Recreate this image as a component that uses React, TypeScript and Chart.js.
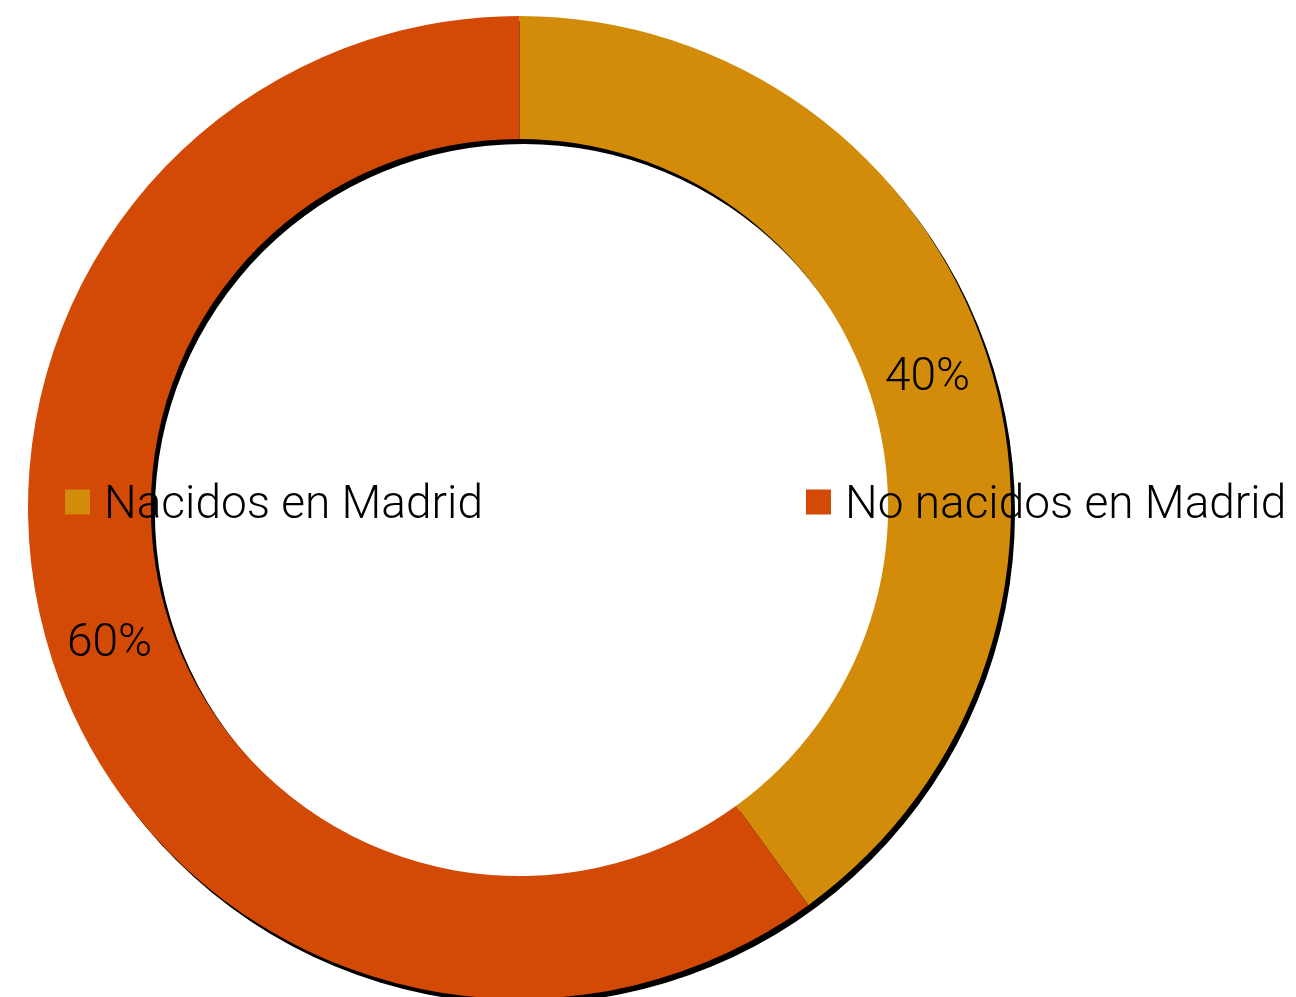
import React, { useEffect, useRef } from "react";
import { Chart, registerables } from "chart.js";

Chart.register(...registerables);

const categories: string[] = ["Nacidos en Madrid", "No nacidos en Madrid"];
const percentages: number[] = [40, 60];
const sliceColors: string[] = ["#D28C09", "#D34906"];

const FONT_FAMILY = "Roboto, 'Helvetica Neue', Arial, sans-serif";
const TEXT_SIZE = 46;

const shadowPlugin = {
  id: "ringShadow",
  beforeDatasetsDraw(chart: any) {
    const arc = chart.getDatasetMeta(0).data[0];
    if (!arc) return;
    const { x, y, innerRadius, outerRadius } = arc.getProps(
      ["x", "y", "innerRadius", "outerRadius"],
      true
    );
    const ctx = chart.ctx;
    ctx.save();
    ctx.fillStyle = "#000";
    ctx.beginPath();
    ctx.arc(x + 4, y + 5, outerRadius, 0, Math.PI * 2);
    ctx.arc(x + 4, y + 5, innerRadius, 0, Math.PI * 2, true);
    ctx.fill("evenodd");
    ctx.restore();
  },
};

const labelPlugin = {
  id: "sliceLabels",
  afterDatasetsDraw(chart: any) {
    const ctx = chart.ctx;
    const meta = chart.getDatasetMeta(0);
    const values = chart.data.datasets[0].data as number[];
    ctx.save();
    ctx.font = `300 ${TEXT_SIZE}px ${FONT_FAMILY}`;
    ctx.fillStyle = "#000";
    ctx.textAlign = "center";
    ctx.textBaseline = "middle";
    meta.data.forEach((arc: any, i: number) => {
      const p = arc.tooltipPosition();
      ctx.fillText(`${values[i]}%`, p.x - 1, p.y + 4);
    });
    ctx.restore();
  },
};

const legendPlugin = {
  id: "centerLegend",
  afterDraw(chart: any) {
    const ctx = chart.ctx;
    const labels = chart.data.labels as string[];
    const colors = chart.data.datasets[0].backgroundColor as string[];
    const starts = [65, 806];
    const cy = 502;
    const box = 25;
    ctx.save();
    ctx.font = `300 ${TEXT_SIZE}px ${FONT_FAMILY}`;
    ctx.textAlign = "left";
    ctx.textBaseline = "middle";
    labels.forEach((lab, i) => {
      const x0 = starts[i];
      ctx.fillStyle = colors[i];
      ctx.fillRect(x0, cy - box / 2, box, box);
      ctx.fillStyle = "#000";
      ctx.fillText(lab, x0 + 39, cy + 4);
    });
    ctx.restore();
  },
};

export default function App() {
  const ref = useRef<HTMLCanvasElement | null>(null);

  useEffect(() => {
    if (!ref.current) return;
    const chart = new Chart(ref.current, {
      type: "doughnut",
      data: {
        labels: categories,
        datasets: [
          {
            data: percentages,
            backgroundColor: sliceColors,
            borderWidth: 0,
          },
        ],
      },
      options: {
        responsive: false,
        animation: false,
        cutout: "75%",
        layout: { padding: { left: 28, right: 285, top: 16, bottom: 1 } },
        plugins: {
          legend: { display: false },
          tooltip: { enabled: false },
          title: { display: false },
        },
      },
      plugins: [shadowPlugin, labelPlugin, legendPlugin],
    });
    return () => chart.destroy();
  }, []);

  return (
    <div
      style={{
        position: "absolute",
        left: 0,
        top: 0,
        width: 1296,
        height: 997,
        overflow: "hidden",
        background: "#fff",
      }}
    >
      <canvas
        ref={ref}
        width={1296}
        height={1000}
        style={{ display: "block", width: 1296, height: 1000 }}
      />
    </div>
  );
}
